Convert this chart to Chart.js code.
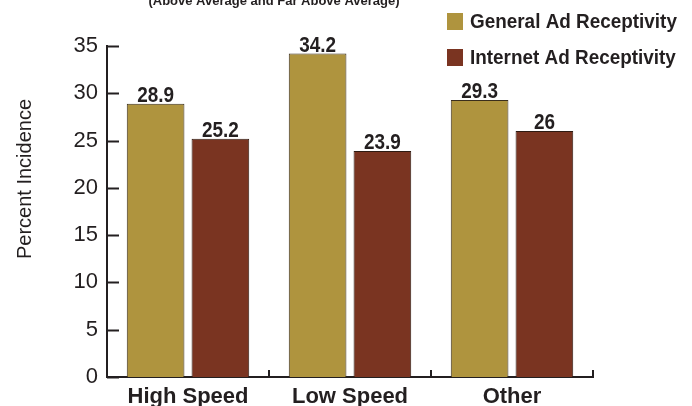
<!DOCTYPE html>
<html>
<head>
<meta charset="utf-8">
<script src="https://cdn.jsdelivr.net/npm/chart.js@4.4.1/dist/chart.umd.min.js"></script>
<style>
  html, body { margin: 0; padding: 0; background: #fff; }
  #wrap { width: 692px; height: 406px; }
</style>
</head>
<body>
<div id="wrap"><canvas id="chart" width="692" height="406"></canvas></div>
<script>
/* ============================
   Datos
============================ */
const categorias = ["High Speed", "Low Speed", "Other"];
const generalAd = [28.9, 34.2, 29.3];
const internetAd = [25.2, 23.9, 26];
const etiquetasGeneral = ["28.9", "34.2", "29.3"];
const etiquetasInternet = ["25.2", "23.9", "26"];
const ticksY = [0, 5, 10, 15, 20, 25, 30, 35];
const tituloY = "Percent Incidence";
const subtitulo = "(Above Average and Far Above Average)";

const ORO = "#af943e";
const ROJO = "#7a3421";
const TINTA = "#231f20";
const FUENTE = "'Liberation Sans', Arial, sans-serif";

// texto un poco condensado, como en el original
function textoCondensado(ctx, txt, x, y, escala) {
    ctx.save();
    ctx.translate(x, y);
    ctx.scale(escala, 1);
    ctx.fillText(txt, 0, 0);
    ctx.restore();
}

/* ============================
   Plugin: ticks internos, valores, leyenda, títulos
============================ */
const extras = {
    id: "extras",
    afterDraw(chart) {
        const { ctx, chartArea: a, scales: { x, y } } = chart;
        ctx.save();

        // ticks del eje Y hacia dentro
        ctx.strokeStyle = TINTA;
        ctx.lineWidth = 2;
        ticksY.forEach((v) => {
            const py = Math.round(y.getPixelForValue(v)) + 0.5;
            ctx.beginPath();
            ctx.moveTo(a.left, py);
            ctx.lineTo(a.left + 12, py);
            ctx.stroke();
        });

        // ticks del eje X en los límites de categoría
        const limites = [];
        for (let i = 0; i < categorias.length - 1; i++) {
            limites.push((x.getPixelForValue(i) + x.getPixelForValue(i + 1)) / 2);
        }
        limites.push(a.right);
        limites.forEach((px) => {
            ctx.beginPath();
            ctx.moveTo(Math.round(px), a.bottom);
            ctx.lineTo(Math.round(px), a.bottom - 7);
            ctx.stroke();
        });

        // etiquetas de valor
        ctx.fillStyle = TINTA;
        ctx.font = "bold 22px " + FUENTE;
        ctx.textAlign = "center";
        ctx.textBaseline = "alphabetic";
        const etiquetas = [etiquetasGeneral, etiquetasInternet];
        chart.data.datasets.forEach((ds, di) => {
            chart.getDatasetMeta(di).data.forEach((bar, i) => {
                textoCondensado(ctx, etiquetas[di][i], bar.x, bar.y - 2, 0.86);
            });
        });

        // leyenda
        ctx.textAlign = "left";
        ctx.textBaseline = "middle";
        ctx.font = "bold 21px " + FUENTE;
        const filas = [21, 57];
        chart.data.datasets.forEach((ds, di) => {
            const cy = filas[di];
            ctx.fillStyle = ds.backgroundColor;
            ctx.fillRect(447, cy - 8, 16, 17);
            ctx.fillStyle = TINTA;
            textoCondensado(ctx, ds.label, 470, cy + 1, 0.9);
        });

        // subtítulo cortado arriba
        ctx.textAlign = "center";
        ctx.textBaseline = "alphabetic";
        ctx.font = "bold 13px " + FUENTE;
        ctx.fillStyle = TINTA;
        ctx.fillText(subtitulo, 274, 5);

        // título del eje Y
        ctx.save();
        ctx.translate(25, 179);
        ctx.rotate(-Math.PI / 2);
        ctx.textAlign = "center";
        ctx.textBaseline = "middle";
        ctx.font = "20px " + FUENTE;
        ctx.fillText(tituloY, 0, 0);
        ctx.restore();

        ctx.restore();
    }
};

/* ============================
   Gráfica
============================ */
new Chart(document.getElementById("chart").getContext("2d"), {
    type: "bar",
    data: {
        labels: categorias,
        datasets: [
            { label: "General Ad Receptivity", data: generalAd, backgroundColor: ORO, borderColor: "#3a2e1c", borderWidth: 1 },
            { label: "Internet Ad Receptivity", data: internetAd, backgroundColor: ROJO, borderColor: "#2e1a12", borderWidth: 1 }
        ]
    },
    options: {
        responsive: false,
        animation: false,
        layout: { padding: { top: 46, right: 99, left: 0, bottom: 0 } },
        datasets: { bar: { categoryPercentage: 0.8, barPercentage: 0.89 } },
        plugins: { legend: { display: false }, tooltip: { enabled: false } },
        scales: {
            x: {
                afterFit: (s) => { s.height = 29; },
                grid: { display: false, drawTicks: false },
                border: { display: true, color: TINTA, width: 2 },
                ticks: { color: TINTA, padding: 7, font: { family: FUENTE, size: 22, weight: "bold" } }
            },
            y: {
                min: 0,
                max: 35,
                afterFit: (s) => { s.width = 107; },
                afterBuildTicks: (s) => { s.ticks = ticksY.map((v) => ({ value: v })); },
                grid: { display: false, drawTicks: false },
                border: { display: true, color: TINTA, width: 2 },
                ticks: { color: TINTA, padding: 9, font: { family: FUENTE, size: 22 } }
            }
        }
    },
    plugins: [extras]
});
</script>
</body>
</html>
